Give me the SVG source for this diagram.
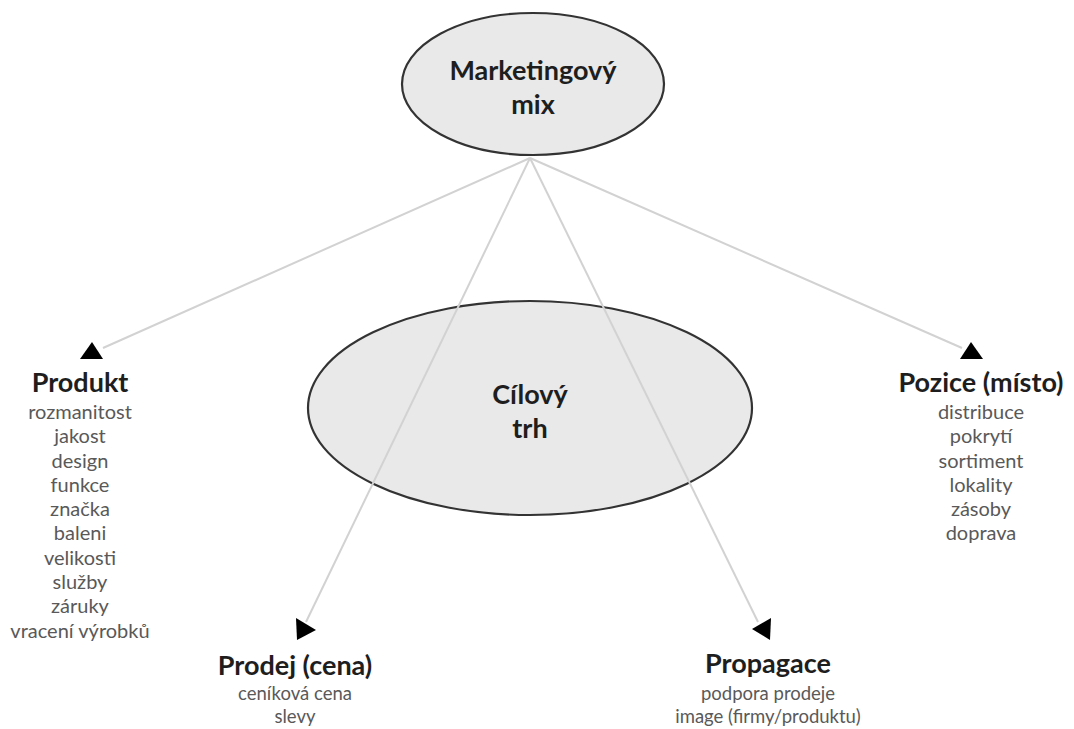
<svg xmlns="http://www.w3.org/2000/svg" width="1074" height="729" viewBox="0 0 1074 729">
<style>
.ell{fill:#e9e9e9;stroke:#333;stroke-width:2.2}
.t{font-family:Lato,"Liberation Sans",sans-serif;font-weight:bold;fill:#1e1e1e;text-anchor:middle}
.big{font-size:27px}
.hd{font-size:27px}
.it{font-family:Lato,"Liberation Sans",sans-serif;font-size:20px;fill:#595959;text-anchor:middle}
.sm{font-size:18.5px}
.ln{stroke:#d2d2d2;stroke-width:2;fill:none}
.ar{fill:#000}
</style>
<rect width="1074" height="729" fill="#fff"/>
<g id="mix">
<ellipse class="ell" cx="533" cy="84" rx="131" ry="71"/>
<text class="t big" x="533" y="80">Marketingový</text>
<text class="t big" x="533" y="114">mix</text>
</g>
<g id="cilovy">
<ellipse class="ell" cx="530" cy="408" rx="222" ry="107"/>
<text class="t big" x="530" y="404">Cílový</text>
<text class="t big" x="530" y="438">trh</text>
</g>
<g id="connectors">
<line class="ln" x1="530" y1="158" x2="103" y2="348"/>
<line class="ln" x1="530" y1="158" x2="306" y2="622"/>
<line class="ln" x1="530" y1="158" x2="758" y2="622"/>
<line class="ln" x1="530" y1="158" x2="962" y2="348"/>
<polygon class="ar" points="80,359 103,359 92,342"/>
<polygon class="ar" points="960,359 983,359 971,342"/>
<polygon class="ar" points="296,618 316,630 297,640"/>
<polygon class="ar" points="771,618 752,629 770,640"/>
</g>
<g id="produkt">
<text class="t hd" x="80" y="392">Produkt</text>
<text class="it" x="80" y="419">rozmanitost</text>
<text class="it" x="80" y="443">jakost</text>
<text class="it" x="80" y="468">design</text>
<text class="it" x="80" y="492">funkce</text>
<text class="it" x="80" y="516">značka</text>
<text class="it" x="80" y="540">baleni</text>
<text class="it" x="80" y="565">velikosti</text>
<text class="it" x="80" y="589">služby</text>
<text class="it" x="80" y="613">záruky</text>
<text class="it" x="80" y="638">vracení výrobků</text>
</g>
<g id="pozice">
<text class="t hd" x="981" y="392">Pozice (místo)</text>
<text class="it" x="981" y="419">distribuce</text>
<text class="it" x="981" y="443">pokrytí</text>
<text class="it" x="981" y="468">sortiment</text>
<text class="it" x="981" y="492">lokality</text>
<text class="it" x="981" y="516">zásoby</text>
<text class="it" x="981" y="540">doprava</text>
</g>
<g id="prodej">
<text class="t hd" x="295" y="675">Prodej (cena)</text>
<text class="it sm" x="295" y="700">ceníková cena</text>
<text class="it sm" x="295" y="723">slevy</text>
</g>
<g id="propagace">
<text class="t hd" x="768" y="673">Propagace</text>
<text class="it sm" x="768" y="700">podpora prodeje</text>
<text class="it sm" x="768" y="723">image (firmy/produktu)</text>
</g>
</svg>
